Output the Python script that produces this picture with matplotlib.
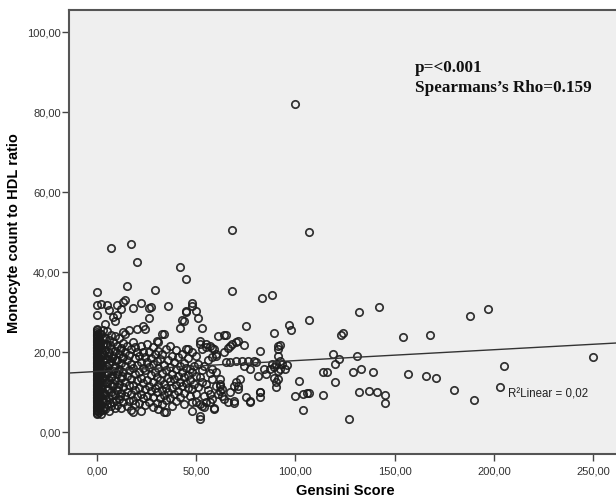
import matplotlib
matplotlib.use("Agg")
import matplotlib.pyplot as plt
import numpy as np

plt.rcParams['font.family'] = ['Liberation Sans', 'DejaVu Sans']

# ---- Data (Gensini score vs monocyte/HDL ratio) ----
# Patients with Gensini score 0 (the dense column at x = 0)
zero_mhr = [4.4, 4.8, 5.2, 5.5, 5.9, 6.3, 6.6, 7.0, 7.4, 7.7, 8.1, 8.5, 8.8, 9.2,
            9.6, 9.9, 10.3, 10.7, 11.0, 11.4, 11.8, 12.1, 12.5, 12.9, 13.2, 13.6,
            14.0, 14.3, 14.7, 15.1, 15.4, 15.8, 16.2, 16.5, 16.9, 17.3, 17.6, 18.0,
            18.4, 18.7, 19.1, 19.5, 19.8, 20.2, 20.6, 20.9, 21.3, 21.7, 22.0, 22.4,
            22.8, 23.1, 23.5, 23.9, 24.2, 24.6, 25.0, 25.4, 25.8, 29.2, 31.8, 34.9]

# Low Gensini scores (1-3)
low_gensini = [1]*18 + [2]*12 + [3]*10
low_mhr = [5.0, 6.1, 7.3, 8.4, 9.6, 10.5, 11.7, 12.8, 14.0, 15.2, 16.3, 17.5, 18.6,
           19.8, 21.0, 22.1, 23.4, 24.8,
           4.6, 6.8, 8.9, 10.9, 12.6, 14.6, 16.8, 18.9, 20.7, 22.6, 24.4, 32.0,
           5.6, 7.9, 10.1, 13.4, 15.7, 17.9, 19.6, 21.9, 23.2, 25.6]

# Half-point scores (0.5-12.5), filling the dark area next to the column
half_gensini = [0.5, 0.5, 0.5, 0.5, 0.5, 1.5, 1.5, 1.5, 1.5, 1.5, 2.5, 2.5, 2.5, 2.5,
                3.5, 3.5, 3.5, 3.5, 4.5, 4.5, 4.5, 4.5, 5.5, 5.5, 5.5, 6.5, 6.5, 6.5,
                7.5, 7.5, 7.5, 8.5, 8.5, 9.5, 9.5, 10.5, 10.5, 11.5, 11.5, 12.5, 12.5]
half_mhr = [6.9, 10.1, 13.7, 18.2, 22.5, 5.4, 9.1, 13.0, 17.1, 21.4, 7.6, 11.4, 15.9, 20.1,
            6.2, 9.8, 14.8, 19.3, 8.0, 12.4, 16.8, 22.0, 10.5, 15.0, 19.0, 7.3, 11.9, 21.8,
            9.2, 14.1, 18.6, 12.0, 16.0, 8.0, 17.9, 11.3, 15.2, 9.0, 20.4, 13.9, 18.5]

# Gensini 4-45
mid_gensini = [4, 4, 4, 4, 4, 4, 4, 5, 5, 5, 5, 5, 5, 5, 6, 6, 6, 6, 6, 6, 6,
               7, 7, 7, 7, 7, 7, 7, 8, 8, 8, 8, 8, 8, 9, 9, 9, 9, 9, 9, 9,
               10, 10, 10, 10, 10, 10, 10, 11, 11, 11, 11, 11, 12, 12, 12, 12, 12, 12,
               13, 13, 13, 13, 13, 13, 13, 14, 14, 14, 14, 14, 14, 15, 15, 15, 15, 15, 15,
               16, 16, 16, 16, 16, 17, 17, 17, 17, 17, 17, 18, 18, 18, 18, 18, 18,
               19, 19, 19, 19, 19, 20, 20, 20, 20, 20, 20,
               21, 21, 21, 21, 22, 22, 22, 22, 22, 22, 23, 23, 23, 23, 23,
               24, 24, 24, 24, 24, 25, 25, 25, 25, 26, 26, 26, 26, 26, 26,
               27, 27, 27, 27, 28, 28, 28, 28, 28, 29, 29, 29, 29, 30, 30, 30, 30, 30,
               31, 31, 31, 31, 31, 32, 32, 32, 33, 33, 33, 33, 33,
               34, 34, 34, 34, 34, 35, 35, 35, 35, 35, 36, 36, 36, 36,
               37, 37, 37, 37, 38, 38, 38, 38, 39, 39, 39, 40, 40, 40, 40,
               41, 41, 41, 42, 42, 42, 42, 42, 43, 43, 43, 43, 44, 44, 44, 44, 44,
               45, 45, 45, 45, 45, 45]
mid_mhr = [5.8, 9.3, 12.2, 16.1, 20.4, 23.6, 27.0, 7.1, 10.8, 14.4, 18.3, 21.8, 25.2, 31.7,
           5.3, 8.6, 12.9, 16.9, 19.7, 23.0, 30.5,
           6.4, 9.9, 13.8, 17.7, 21.1, 24.3, 46.1, 7.6, 11.4, 15.3, 19.0, 22.5, 28.8,
           5.9, 9.2, 13.1, 16.6, 20.3, 24.0, 27.8,
           6.8, 10.4, 14.6, 18.1, 21.6, 29.3, 31.8, 8.2, 12.0, 15.8, 19.4, 23.4,
           6.1, 9.7, 13.5, 17.2, 21.0, 30.8,
           7.4, 11.2, 15.0, 18.7, 22.3, 25.0, 32.5, 8.9, 12.6, 16.4, 20.1, 24.4, 33.0,
           6.5, 10.1, 14.0, 17.9, 21.5, 36.5,
           7.8, 11.7, 15.6, 19.2, 25.4, 5.6, 9.4, 13.2, 17.0, 20.8, 47.1,
           8.0, 11.8, 15.9, 22.4, 30.9, 5.1,
           6.9, 10.6, 14.5, 18.4, 21.2, 9.0, 12.9, 16.7, 20.0, 42.5, 25.8,
           7.3, 11.0, 14.9, 19.0, 5.3, 9.5, 13.6, 17.5, 21.6, 32.3, 8.4, 12.3, 16.0, 26.4, 20.0,
           6.7, 10.7, 15.4, 18.8, 25.7, 9.1, 13.0, 17.4, 22.1, 7.6, 11.5, 16.3, 19.9, 28.6, 30.9,
           10.2, 14.2, 18.5, 31.2, 6.3, 8.8, 12.4, 16.9, 21.3, 11.0, 15.0, 19.4, 35.6,
           7.2, 9.9, 13.8, 17.8, 22.8,
           5.8, 11.7, 15.9, 20.2, 22.4, 8.6, 13.0, 18.3, 6.9, 10.5, 14.8, 19.6, 24.4,
           9.3, 12.0, 16.7, 24.5, 4.9, 7.9, 11.1, 15.4, 20.8, 4.9, 10.0, 13.5, 18.0, 31.6,
           8.4, 12.7, 16.2, 21.4, 6.4, 10.9, 14.6, 19.1, 9.6, 13.2, 17.4, 7.7, 11.8, 15.8, 20.4,
           10.3, 14.1, 18.7, 8.8, 12.5, 16.5, 41.2, 25.9, 11.4, 14.9, 19.5, 28.0,
           9.7, 13.7, 17.2, 7.0, 27.8,
           12.3, 15.9, 20.75, 30.3, 38.25, 29.9]

# Gensini 46-100
upper_gensini = [46, 46, 46, 46, 47, 47, 47, 48, 48, 48, 48, 48, 48, 48, 49, 49,
                 50, 50, 50, 50, 50, 51, 51, 51, 52, 52, 52, 52, 52, 52,
                 53, 53, 53, 53, 53, 54, 54, 54, 55, 55, 55, 55, 56, 56,
                 57, 57, 57, 57, 58, 58, 58, 58, 58, 59, 59, 59, 60, 60, 60, 60,
                 61, 61, 62, 62, 62, 62, 63, 63, 64, 64, 64, 65, 65, 66, 66, 67, 67, 67,
                 68, 68, 68, 69, 69, 69, 70, 70, 70, 71, 71, 71, 72, 73, 74, 74, 75, 75,
                 76, 77, 77, 77, 79, 80, 81, 82, 82, 82, 82, 83, 84, 85, 87, 88, 88,
                 89, 89, 89, 90, 90, 90, 91, 91, 91, 91, 91, 92, 92, 92, 93, 95, 96,
                 97, 98, 100, 100]
upper_mhr = [11.0, 14.3, 18.4, 20.75, 9.0, 13.0, 15.75, 7.4, 10.8, 14.9, 19.9, 32.3, 31.6, 5.3,
             12.1, 16.6, 7.4, 14.1, 19.1, 30.3, 9.5, 28.5, 11.3, 17.0,
             3.25, 4.1, 7.0, 13.7, 22.8, 22.0, 6.6, 12.4, 26.1, 20.75, 15.6,
             6.2, 9.0, 16.6, 7.4, 12.0, 21.2, 22.0, 10.4, 18.1,
             7.6, 9.5, 21.4, 14.8, 8.25, 13.25, 15.75, 18.7, 20.9, 5.75, 5.9, 20.75,
             14.9, 11.6, 19.5, 19.1,
             23.9, 9.5, 13.25, 12.0, 11.6, 10.3, 10.75, 9.1, 8.25, 19.9, 24.25, 17.6, 24.25,
             7.4, 20.9, 9.9, 21.6, 17.6, 35.3, 22.0, 50.6, 11.6, 7.25, 7.8,
             12.4, 17.7, 22.4, 10.75, 11.6, 22.8, 13.25, 17.7, 21.8, 16.6, 8.7, 26.4,
             17.7, 7.8, 15.75, 7.4, 17.7, 17.5, 14.1, 20.2, 10.1, 8.7, 9.9, 33.6,
             15.75, 14.5, 15.75, 34.25, 17.0, 13.4, 24.75, 16.2, 12.4, 11.2, 17.0,
             13.25, 21.6, 20.75, 19.1, 15.3, 21.8, 15.75, 17.8, 17.0, 15.75, 16.75,
             26.75, 25.5, 9.1, 81.9]

# Gensini above 100
high_gensini = [102, 104, 104, 106, 107, 107, 107, 114, 114, 116, 119, 120, 120, 122,
                123, 124, 127, 129, 131, 132, 132, 133, 137, 139, 141, 142, 145, 145,
                154, 157, 166, 168, 171, 180, 188, 190, 197, 203, 205, 250]
high_mhr = [12.8, 9.4, 5.5, 9.75, 28.1, 49.9, 9.7, 9.3, 14.9, 14.9, 19.4, 17.0, 12.4, 18.25,
            24.25, 24.7, 3.25, 15.1, 19.1, 9.9, 30.0, 15.7, 10.2, 15.1, 10.1, 31.2, 9.3, 7.25,
            23.7, 14.5, 14.0, 24.25, 13.5, 10.6, 29.0, 8.1, 30.7, 11.2, 16.6, 18.7]

# Fit line (as displayed) and statistics
fit_intercept = 15.13
fit_slope = 0.0272
r2_label = "R\u00b2Linear = 0,02"
stats_lines = ["p=<0.001", "Spearmans\u2019s Rho=0.159"]

x_ticks = [0, 50, 100, 150, 200, 250]
y_ticks = [0, 20, 40, 60, 80, 100]

gensini = ([0]*len(zero_mhr) + low_gensini + half_gensini + mid_gensini
           + upper_gensini + high_gensini)
mhr = zero_mhr + low_mhr + half_mhr + mid_mhr + upper_mhr + high_mhr

# ---- Figure ----
W, H = 616, 502
fig = plt.figure(figsize=(W/100, H/100), dpi=100)
ax = fig.add_axes([69/W, 1-455/H, (622-69)/W, (455-11)/H])
ax.set_facecolor('#efefef')

ax.plot(gensini, mhr, linestyle='none', marker='o', ms=5.3, mew=1.25,
        mfc='none', mec='#1c1c1c', alpha=0.9)

ax.axline((0, fit_intercept), slope=fit_slope, color='#333333', lw=1.0)

ax.set_xlim(-14.1, 264.6)
ax.set_ylim(-5.5, 105.5)
ax.set_xticks(x_ticks)
ax.set_yticks(y_ticks)
ax.set_xticklabels([f"{v:.2f}".replace('.', ',') for v in x_ticks])
ax.set_yticklabels([f"{v:.2f}".replace('.', ',') for v in y_ticks])
ax.tick_params(axis='both', direction='out', length=5, width=1.0, color='#444444',
               labelsize=8, labelcolor='#333333')
ax.tick_params(axis='y', pad=1)
ax.tick_params(axis='x', pad=3)

for side in ['left', 'bottom', 'top', 'right']:
    ax.spines[side].set_color('#555555')
    ax.spines[side].set_linewidth(1.5)

ax.set_xlabel("Gensini Score", fontsize=10.5, fontweight='bold', labelpad=6)
ax.set_ylabel("Monocyte count to HDL ratio", fontsize=10.5, fontweight='bold', labelpad=4)

ax.text(160.3, 90.3, stats_lines[0], family='Liberation Serif', fontweight='bold',
        fontsize=12.3, color='#111111', va='baseline', ha='left')
ax.text(160.3, 85.3, stats_lines[1], family='Liberation Serif', fontweight='bold',
        fontsize=12.3, color='#111111', va='baseline', ha='left')

ax.text(207.2, 9.5, r2_label, fontsize=8.3, color='#222222', va='center', ha='left')

fig.savefig("out.png", dpi=100)
